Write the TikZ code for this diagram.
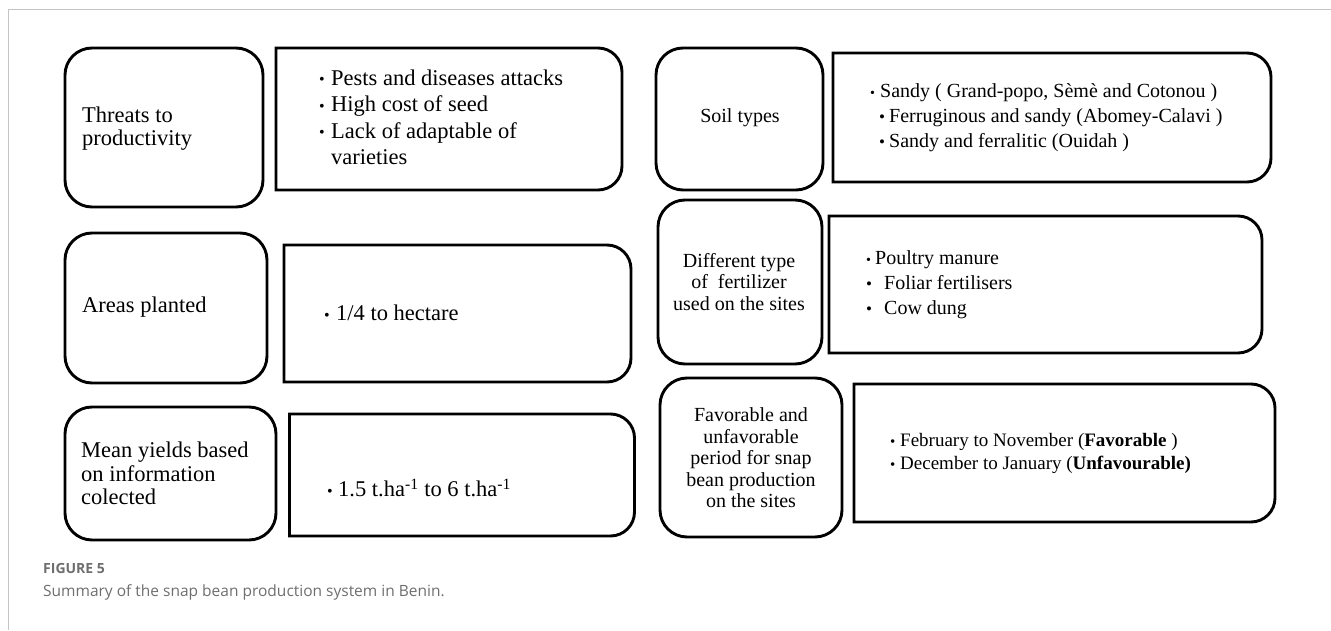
\documentclass[tikz,border=0pt]{standalone}
\usepackage{fontspec}
\setmainfont{Liberation Serif}
\newfontfamily\capfont{Open Sans}
\definecolor{framegray}{HTML}{C4C4C4}
\definecolor{capgray}{HTML}{6E6E6E}
\newcommand{\bul}[1]{\makebox[#1][l]{•}}
\newcommand{\sbul}[1]{{\fontsize{16pt}{16pt}\selectfont\raisebox{0.5pt}{\makebox[#1][l]{•}}}}
\def\boxr{24pt}
\newcommand{\halfbox}[1]{\draw[boxline] (#1.south west) -- (#1.north west) -- ([xshift=-\boxr]#1.north east) arc[start angle=90,end angle=0,radius=\boxr] -- ([yshift=\boxr]#1.south east) arc[start angle=0,end angle=-90,radius=\boxr] -- cycle;}
\tikzset{
  boxline/.style={line width=2.9pt, line join=miter},
  labelbox/.style={draw, line width=2.9pt, rounded corners=27pt, inner sep=0pt, outer sep=0pt},
  listbox/.style={draw=none, inner sep=0pt, outer sep=0pt},
  lefttxt/.style={anchor=west, inner sep=0pt, align=left, font=\fontsize{22.5pt}{23.5pt}\selectfont},
  bigtxt/.style={anchor=west, inner sep=0pt, font=\fontsize{22.5pt}{26.5pt}\selectfont},
  ctrtxt/.style={inner sep=0pt, align=center, font=\fontsize{20pt}{21.5pt}\selectfont},
  rtxt/.style={anchor=west, inner sep=0pt, font=\fontsize{20pt}{25pt}\selectfont},
  r3txt/.style={anchor=west, inner sep=0pt, font=\fontsize{19pt}{23pt}\selectfont},
}
\begin{document}
\begin{tikzpicture}[x=1pt,y=1pt]
\useasboundingbox (0,0) rectangle (1331,630);
% frame
\draw[framegray, line width=1.5pt] (8.5,0) -- (8.5,620.5) -- (1331,620.5);

% left column
\node[labelbox, minimum width=198pt, minimum height=159pt] (a1) at (164,502.5) {};
\node[listbox, minimum width=346pt, minimum height=142pt] (b1) at (449,511) {};
\halfbox{b1}
\node[labelbox, minimum width=202pt, minimum height=150pt] (a2) at (166,322) {};
\node[listbox, minimum width=347pt, minimum height=137pt] (b2) at (457.5,316.5) {};
\halfbox{b2}
\node[labelbox, minimum width=211pt, minimum height=133pt] (a3) at (170.5,156.5) {};
\node[listbox, minimum width=345pt, minimum height=122pt] (b3) at (462,155) {};
\halfbox{b3}

% right column
\node[labelbox, minimum width=167pt, minimum height=142pt] (c1) at (739.5,511) {};
\node[listbox, minimum width=438pt, minimum height=129pt] (d1) at (1052,512.5) {};
\halfbox{d1}
\node[labelbox, minimum width=164pt, minimum height=164pt] (c2) at (740,348) {};
\node[listbox, minimum width=433pt, minimum height=137pt] (d2) at (1045.5,345.5) {};
\halfbox{d2}
\node[labelbox, minimum width=182pt, minimum height=159pt] (c3) at (751,172.5) {};
\node[listbox, minimum width=421pt, minimum height=138pt] (d3) at (1064.5,177) {};
\halfbox{d3}

% texts left
\node[lefttxt] (ta1) at (82,501.5) {Threats to\\productivity};
\node[lefttxt] (ta2) at (82,323) {Areas planted};
\node[lefttxt] (ta3) at (81,156.5) {Mean yields based\\on information\\colected};
\node[bigtxt] (tb1) at (319,510.5) {\begin{tabular}{@{}l@{}}
\sbul{12pt}Pests and diseases attacks\\
\sbul{12pt}High cost of seed\\
\sbul{12pt}Lack of adaptable of\\
\hspace{12pt}varieties
\end{tabular}};
\node[bigtxt] (tb2) at (324,317) {\sbul{12pt}1/4 to hectare};
\node[bigtxt] (tb3) at (327,142) {\sbul{11pt}1.5 t.ha\textsuperscript{-1} to 6 t.ha\textsuperscript{-1}};

% texts right
\node[ctrtxt] (tc1) at (740,512) {Soil types};
\node[rtxt] (td1) at (870,512) {\begin{tabular}{@{}l@{}}
{\fontsize{14pt}{14pt}\selectfont\bul{10pt}}Sandy ( Grand-popo, Sèmè and Cotonou )\\
\hspace{9pt}{\fontsize{17pt}{17pt}\selectfont\bul{10pt}}Ferruginous and sandy (Abomey-Calavi )\\
\hspace{9pt}{\fontsize{17pt}{17pt}\selectfont\bul{10pt}}Sandy and ferralitic (Ouidah )
\end{tabular}};
\node[ctrtxt] (tc2) at (739,348) {Different type\\of\ \ fertilizer\\used on the sites};
\node[rtxt] (td2) at (866,345.5) {\begin{tabular}{@{}l@{}}
{\fontsize{14pt}{14pt}\selectfont\bul{9pt}}Poultry manure\\
{\fontsize{17pt}{17pt}\selectfont\bul{18pt}}Foliar fertilisers\\
{\fontsize{17pt}{17pt}\selectfont\bul{18pt}}Cow dung
\end{tabular}};
\node[ctrtxt] (tc3) at (751,172) {Favorable and\\unfavorable\\period for snap\\bean production\\on the sites};
\node[r3txt] (td3) at (890,176.5) {\begin{tabular}{@{}l@{}}
{\fontsize{15pt}{15pt}\selectfont\bul{10pt}}February to November (\textbf{Favorable })\\
{\fontsize{15pt}{15pt}\selectfont\bul{10pt}}December to January (\textbf{Unfavourable)}
\end{tabular}};

% caption
\node[anchor=west, inner sep=0pt, text=capgray, font=\capfont\bfseries\fontsize{14pt}{16pt}\selectfont] (fig) at (43,62) {FIGURE 5};
\node[anchor=west, inner sep=0pt, text=capgray, font=\capfont\fontsize{15.5pt}{18pt}\selectfont] (cap) at (43,38) {Summary of the snap bean production system in Benin.};
\end{tikzpicture}
\end{document}
